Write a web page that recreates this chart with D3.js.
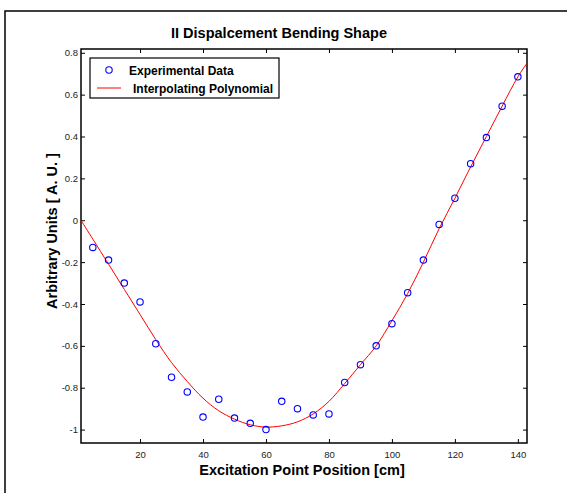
<!DOCTYPE html>
<html>
<head>
<meta charset="utf-8">
<script src="https://cdn.jsdelivr.net/npm/d3@7"></script>
<style>
  body { margin: 0; background: #fff; }
  svg { display: block; font-family: "Liberation Sans", Arial, sans-serif; }
</style>
</head>
<body>
<div id="chart"></div>
<script>
// measured points (position in cm, amplitude)
var posCm = [5, 10, 15, 20, 25, 30, 35, 40, 45, 50, 55, 60, 65, 70, 75, 80, 85, 90, 95, 100, 105, 110, 115, 120, 125, 130, 135, 140];
var amplitude = [-0.13, -0.19, -0.30, -0.39, -0.59, -0.75, -0.82, -0.94, -0.855, -0.945, -0.97, -1.0, -0.865, -0.90, -0.93, -0.925, -0.775, -0.69, -0.60, -0.494, -0.346, -0.19, -0.02, 0.105, 0.27, 0.395, 0.545, 0.685];

// interpolating polynomial
var fitX = [1.25, 5, 10, 15, 20, 25, 30, 35, 40, 45, 50, 55, 60, 65, 70, 75, 80, 85, 90, 95, 100, 105, 110, 115, 120, 125, 130, 135, 140, 142.9];
var fitY = [0, -0.09, -0.21, -0.33, -0.45, -0.57, -0.68, -0.77, -0.85, -0.91, -0.95, -0.977, -0.988, -0.982, -0.963, -0.925, -0.865, -0.78, -0.69, -0.6, -0.48, -0.35, -0.2, -0.04, 0.105, 0.255, 0.4, 0.545, 0.685, 0.75];

var xTicks = [20, 40, 60, 80, 100, 120, 140];
var yTicks = [-1, -0.8, -0.6, -0.4, -0.2, 0, 0.2, 0.4, 0.6, 0.8];

var W = 567, H = 493;
var plot = { left: 81, right: 527, top: 49, bottom: 443 };

var svg = d3.select("#chart").append("svg")
  .attr("width", W).attr("height", H);

// figure frame (runs off the right/bottom edges)
svg.append("rect")
  .attr("x", 5).attr("y", 11)
  .attr("width", W + 10).attr("height", H + 10)
  .attr("fill", "none").attr("stroke", "#000").attr("stroke-width", 1.5);

var x = d3.scaleLinear().domain([1.25, 142.9]).range([plot.left, plot.right]);
var y = d3.scaleLinear().domain([-1.064, 0.818]).range([plot.bottom, plot.top]);

// ticks, inward, on all four sides (matlab box style)
var tickLen = 4;
var tickStyle = function (g) {
  g.select(".domain").remove();
  g.selectAll(".tick line").attr("stroke", "#000").attr("stroke-width", 1);
  g.selectAll(".tick text").attr("fill", "#222").style("font-size", "9.5px");
};
// plain hyphen for negatives, like the original
var yFmt = function (d) { return String(+d.toFixed(1)); };

svg.append("g")
  .attr("transform", "translate(0," + plot.bottom + ")")
  .call(d3.axisBottom(x).tickValues(xTicks).tickSize(-tickLen).tickPadding(8).tickFormat(function (d) { return String(d); }))
  .call(tickStyle);

svg.append("g")
  .attr("transform", "translate(0," + plot.top + ")")
  .call(d3.axisTop(x).tickValues(xTicks).tickSize(-tickLen).tickFormat(""))
  .call(tickStyle);

svg.append("g")
  .attr("transform", "translate(" + plot.left + ",0)")
  .call(d3.axisLeft(y).tickValues(yTicks).tickSize(-tickLen).tickPadding(3).tickFormat(yFmt))
  .call(tickStyle);

svg.append("g")
  .attr("transform", "translate(" + plot.right + ",0)")
  .call(d3.axisRight(y).tickValues(yTicks).tickSize(-tickLen).tickFormat(""))
  .call(tickStyle);

// axes box
svg.append("rect")
  .attr("x", plot.left).attr("y", plot.top)
  .attr("width", plot.right - plot.left).attr("height", plot.bottom - plot.top)
  .attr("fill", "none").attr("stroke", "#000").attr("stroke-width", 1.5);

// fitted curve
var line = d3.line()
  .x(function (d, i) { return x(fitX[i]); })
  .y(function (d) { return y(d); })
  .curve(d3.curveCatmullRom);

svg.append("path")
  .datum(fitY)
  .attr("d", line)
  .attr("fill", "none").attr("stroke", "#f00").attr("stroke-width", 1);

// experimental data
svg.append("g").selectAll("circle")
  .data(amplitude)
  .enter().append("circle")
  .attr("cx", function (d, i) { return x(posCm[i]); })
  .attr("cy", function (d) { return y(d); })
  .attr("r", 3.2)
  .attr("fill", "none").attr("stroke", "#00f").attr("stroke-width", 1.1);

// title and labels
svg.append("text")
  .attr("x", 279).attr("y", 38)
  .attr("text-anchor", "middle")
  .style("font-size", "14.5px").style("font-weight", "bold")
  .text("II Dispalcement Bending Shape");

svg.append("text")
  .attr("x", 302).attr("y", 475)
  .attr("text-anchor", "middle")
  .style("font-size", "14.5px").style("font-weight", "bold")
  .text("Excitation Point Position [cm]");

svg.append("text")
  .attr("transform", "translate(57,231) rotate(-90)")
  .attr("text-anchor", "middle")
  .style("font-size", "14.5px").style("font-weight", "bold")
  .text("Arbitrary Units [ A. U. ]");

// legend
var legend = svg.append("g");
legend.append("rect")
  .attr("x", 90).attr("y", 58)
  .attr("width", 189).attr("height", 40)
  .attr("fill", "#fff").attr("stroke", "#000").attr("stroke-width", 1.2);
legend.append("circle")
  .attr("cx", 109).attr("cy", 70).attr("r", 3.2)
  .attr("fill", "none").attr("stroke", "#00f").attr("stroke-width", 1.1);
legend.append("text")
  .attr("x", 129).attr("y", 75)
  .style("font-size", "12px").style("font-weight", "bold")
  .text("Experimental Data");
legend.append("line")
  .attr("x1", 97).attr("x2", 121).attr("y1", 88).attr("y2", 88)
  .attr("stroke", "#f00").attr("stroke-width", 1);
legend.append("text")
  .attr("x", 133).attr("y", 92.5)
  .style("font-size", "12px").style("font-weight", "bold")
  .text("Interpolating Polynomial");
</script>
</body>
</html>
